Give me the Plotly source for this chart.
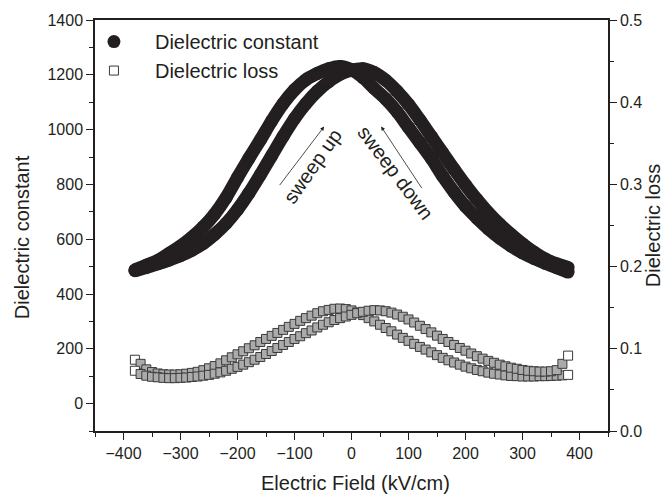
import plotly.graph_objects as go

# ---------------- data ----------------
field_c = [-380, -360, -340, -320, -300, -280, -260, -240, -220, -200, -180, -160, -140, -120, -100,
           -80, -60, -40, -20, 0, 20, 40, 60, 80, 100, 120, 140, 160, 180, 200, 220, 240, 260, 280,
           300, 320, 340, 360, 380]
# dielectric constant, branch peaking at negative field
const_a = [488, 505, 522, 548, 575, 607, 645, 692, 752, 825, 895, 962, 1032, 1095, 1145,
           1182, 1205, 1222, 1230, 1218, 1190, 1150, 1112, 1065, 1008, 952, 895, 830, 772, 720,
           677, 638, 604, 575, 550, 530, 512, 496, 480]
# dielectric constant, branch peaking at positive field
const_b = [485, 497, 510, 524, 540, 560, 585, 618, 658, 708, 768, 835, 905, 975, 1040,
           1095, 1140, 1175, 1202, 1217, 1222, 1208, 1180, 1140, 1092, 1035, 975, 915, 855, 798,
           745, 697, 655, 617, 583, 553, 528, 510, 497]

field_l = [-380, -370, -360, -350, -340, -330, -320, -310, -300, -290, -280, -270, -260, -250,
           -240, -230, -220, -210, -200, -190, -180, -170, -160, -150, -140, -130, -120, -110,
           -100, -90, -80, -70, -60, -50, -40, -30, -20, -10, 0, 10, 20, 30, 40, 50, 60, 70, 80,
           90, 100, 110, 120, 130, 140, 150, 160, 170, 180, 190, 200, 210, 220, 230, 240, 250,
           260, 270, 280, 290, 300, 310, 320, 330, 340, 350, 360, 370, 380]
loss_c = [0.0867, 0.0817, 0.0750, 0.0717, 0.0700, 0.0690, 0.0687, 0.0687, 0.0690, 0.0697,
          0.0707, 0.0720, 0.0740, 0.0763, 0.0790, 0.0823, 0.0860, 0.0897, 0.0933, 0.0970,
          0.1007, 0.1043, 0.1083, 0.1120, 0.1157, 0.1193, 0.1230, 0.1267, 0.1303, 0.1340,
          0.1373, 0.1403, 0.1433, 0.1457, 0.1473, 0.1487, 0.1490, 0.1483, 0.1467, 0.1443,
          0.1410, 0.1373, 0.1333, 0.1293, 0.1253, 0.1213, 0.1173, 0.1133, 0.1097, 0.1060,
          0.1023, 0.0990, 0.0957, 0.0923, 0.0890, 0.0860, 0.0833, 0.0807, 0.0783, 0.0763,
          0.0743, 0.0727, 0.0710, 0.0697, 0.0687, 0.0677, 0.0670, 0.0667, 0.0663, 0.0663,
          0.0663, 0.0667, 0.0667, 0.0670, 0.0673, 0.0677, 0.0683]
loss_d = [0.0733, 0.0693, 0.0673, 0.0660, 0.0653, 0.0647, 0.0643, 0.0643, 0.0647, 0.0650,
          0.0657, 0.0663, 0.0673, 0.0683, 0.0697, 0.0713, 0.0733, 0.0757, 0.0780, 0.0807,
          0.0837, 0.0867, 0.0900, 0.0937, 0.0973, 0.1010, 0.1047, 0.1083, 0.1120, 0.1153,
          0.1190, 0.1223, 0.1260, 0.1293, 0.1323, 0.1350, 0.1373, 0.1393, 0.1413, 0.1433,
          0.1450, 0.1463, 0.1470, 0.1467, 0.1457, 0.1440, 0.1417, 0.1390, 0.1357, 0.1320,
          0.1280, 0.1240, 0.1200, 0.1160, 0.1120, 0.1083, 0.1047, 0.1010, 0.0977, 0.0943,
          0.0910, 0.0880, 0.0853, 0.0830, 0.0807, 0.0787, 0.0770, 0.0757, 0.0743, 0.0733,
          0.0727, 0.0723, 0.0723, 0.0727, 0.0740, 0.0817, 0.0917]

x_ticks = [-400, -300, -200, -100, 0, 100, 200, 300, 400]
y_ticks = [0, 200, 400, 600, 800, 1000, 1200, 1400]
y2_ticks = [0.0, 0.1, 0.2, 0.3, 0.4, 0.5]

FONT = "Liberation Sans, Arial, sans-serif"
BLACK = "#231f20"


def loss_fill(n):
    # open squares at the ends, densely overlapped (grey-looking) in between
    return ["white"] + ["#ababab"] * (n - 2) + ["white"]


fig = go.Figure()

# loss (right axis)
for i, ys in enumerate([loss_c, loss_d]):
    fig.add_trace(go.Scatter(
        x=field_l, y=ys, yaxis="y2", mode="markers",
        name="Dielectric loss", showlegend=(i == 0), legendrank=2,
        marker=dict(symbol="square", size=9, color=loss_fill(len(ys)),
                    line=dict(color="#3a3a3a", width=1)),
    ))

# constant (left axis)
for i, ys in enumerate([const_a, const_b]):
    fig.add_trace(go.Scatter(
        x=field_c, y=ys, mode="lines", showlegend=False,
        line=dict(color=BLACK, width=13, shape="spline", smoothing=0.8),
        hoverinfo="skip",
    ))
    fig.add_trace(go.Scatter(
        x=field_c, y=ys, mode="markers",
        name="Dielectric constant", showlegend=(i == 0), legendrank=1,
        marker=dict(symbol="circle", size=13, color=BLACK),
    ))

axis_common = dict(
    showline=True, linecolor=BLACK, linewidth=1.5,
    ticks="outside", ticklen=7, tickwidth=1.2, tickcolor=BLACK,
    showgrid=False, zeroline=False, automargin=False,
    tickfont=dict(family=FONT, size=16, color=BLACK),
)
TITLE_FONT = dict(family=FONT, size=20, color=BLACK)

fig.update_layout(
    width=670, height=496,
    margin=dict(l=95, r=62, t=20, b=65),
    paper_bgcolor="white", plot_bgcolor="white",
    font=dict(family=FONT, color=BLACK),
    xaxis=dict(**axis_common, range=[-450, 450], tickvals=x_ticks, mirror=True,
               minor=dict(dtick=50, tick0=0, ticks="outside", ticklen=4, tickcolor=BLACK)),
    yaxis=dict(**axis_common, range=[-100, 1400], tickvals=y_ticks,
               minor=dict(dtick=100, tick0=0, ticks="outside", ticklen=4, tickcolor=BLACK)),
    yaxis2=dict(**axis_common, range=[0, 0.5], tickvals=y2_ticks, tickformat=".1f",
                overlaying="y", side="right",
                minor=dict(dtick=0.05, tick0=0, ticks="outside", ticklen=4, tickcolor=BLACK),
                title=dict(text="Dielectric loss", font=TITLE_FONT, standoff=0)),
    legend=dict(x=-0.043, y=0.995, xanchor="left", yanchor="top", bgcolor="rgba(0,0,0,0)",
                font=dict(family=FONT, size=20, color=BLACK), itemsizing="trace",
                itemwidth=72, tracegroupgap=0),
    showlegend=True,
)

# axis titles placed as in the original
fig.add_annotation(x=-0.142, y=0.472, xref="paper", yref="paper", text="Dielectric constant",
                   showarrow=False, textangle=-90, xanchor="center", yanchor="middle",
                   font=TITLE_FONT)
fig.add_annotation(x=0.508, y=-0.1265, xref="paper", yref="paper", text="Electric Field (kV/cm)",
                   showarrow=False, xanchor="center", yanchor="middle", font=TITLE_FONT)

ANN_FONT = dict(family=FONT, size=20, color=BLACK)
fig.add_annotation(x=-48, y=1011, ax=-128, ay=792, xref="x", yref="y", axref="x", ayref="y",
                   text="", showarrow=True, arrowhead=2, arrowsize=1, arrowwidth=0.8,
                   arrowcolor=BLACK)
fig.add_annotation(x=52, y=1011, ax=125, ay=781, xref="x", yref="y", axref="x", ayref="y",
                   text="", showarrow=True, arrowhead=2, arrowsize=1, arrowwidth=0.8,
                   arrowcolor=BLACK)
fig.add_annotation(x=-68, y=866, xref="x", yref="y", text="sweep up", showarrow=False,
                   textangle=-55, font=ANN_FONT)
fig.add_annotation(x=78, y=842, xref="x", yref="y", text="sweep down", showarrow=False,
                   textangle=53, font=ANN_FONT)

fig.write_html("out.html")
